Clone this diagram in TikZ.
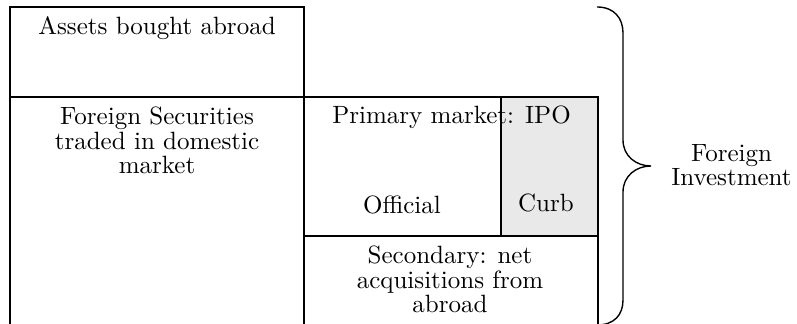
\documentclass[tikz,border=0pt]{standalone}
\definecolor{curbfill}{RGB}{233,233,233}
\begin{document}
\begin{tikzpicture}[x=0.4pt,y=-0.4pt,
  box/.style={draw, line width=0.6pt},
  lbl/.style={font=\fontsize{10}{9.8}\selectfont, align=center, inner sep=0pt},
  bracepath/.style={draw, line width=0.55pt}]
\useasboundingbox (0,0) rectangle (797,324);
% boxes
\draw[box] (10,7) rectangle (304,97);
\draw[box] (10,330) -- (10,97) -- (304,97) -- (304,330);
\fill[curbfill] (501,97) rectangle (598,236);
\draw[box] (304,97) rectangle (598,236);
\draw[box] (501,97) -- (501,236);
\draw[box] (304,236) rectangle (598,330);
% brace
\draw[bracepath] (597,7) .. controls (614,7) and (623,18) .. (623,33) -- (623,140)
  .. controls (623,156) and (636,166) .. (651,166)
  .. controls (636,166) and (623,176) .. (623,192) -- (623,300)
  .. controls (623,315) and (614,325) .. (597,325);
% labels
\node[lbl] (assets) at (157,28) {Assets bought abroad};
\node[lbl] (foreignsec) at (157,140.5) {Foreign Securities\\traded in domestic\\market};
\node[lbl] (primary) at (451.5,117.5) {Primary market: IPO};
\node[lbl] (official) at (402,204.5) {Official};
\node[lbl] (curb) at (546,202.5) {Curb};
\node[lbl] (secondary) at (450,279.5) {Secondary: net\\acquisitions from\\abroad};
\node[lbl] (fi) at (731.5,165) {Foreign\\Investment};
\end{tikzpicture}
\end{document}
